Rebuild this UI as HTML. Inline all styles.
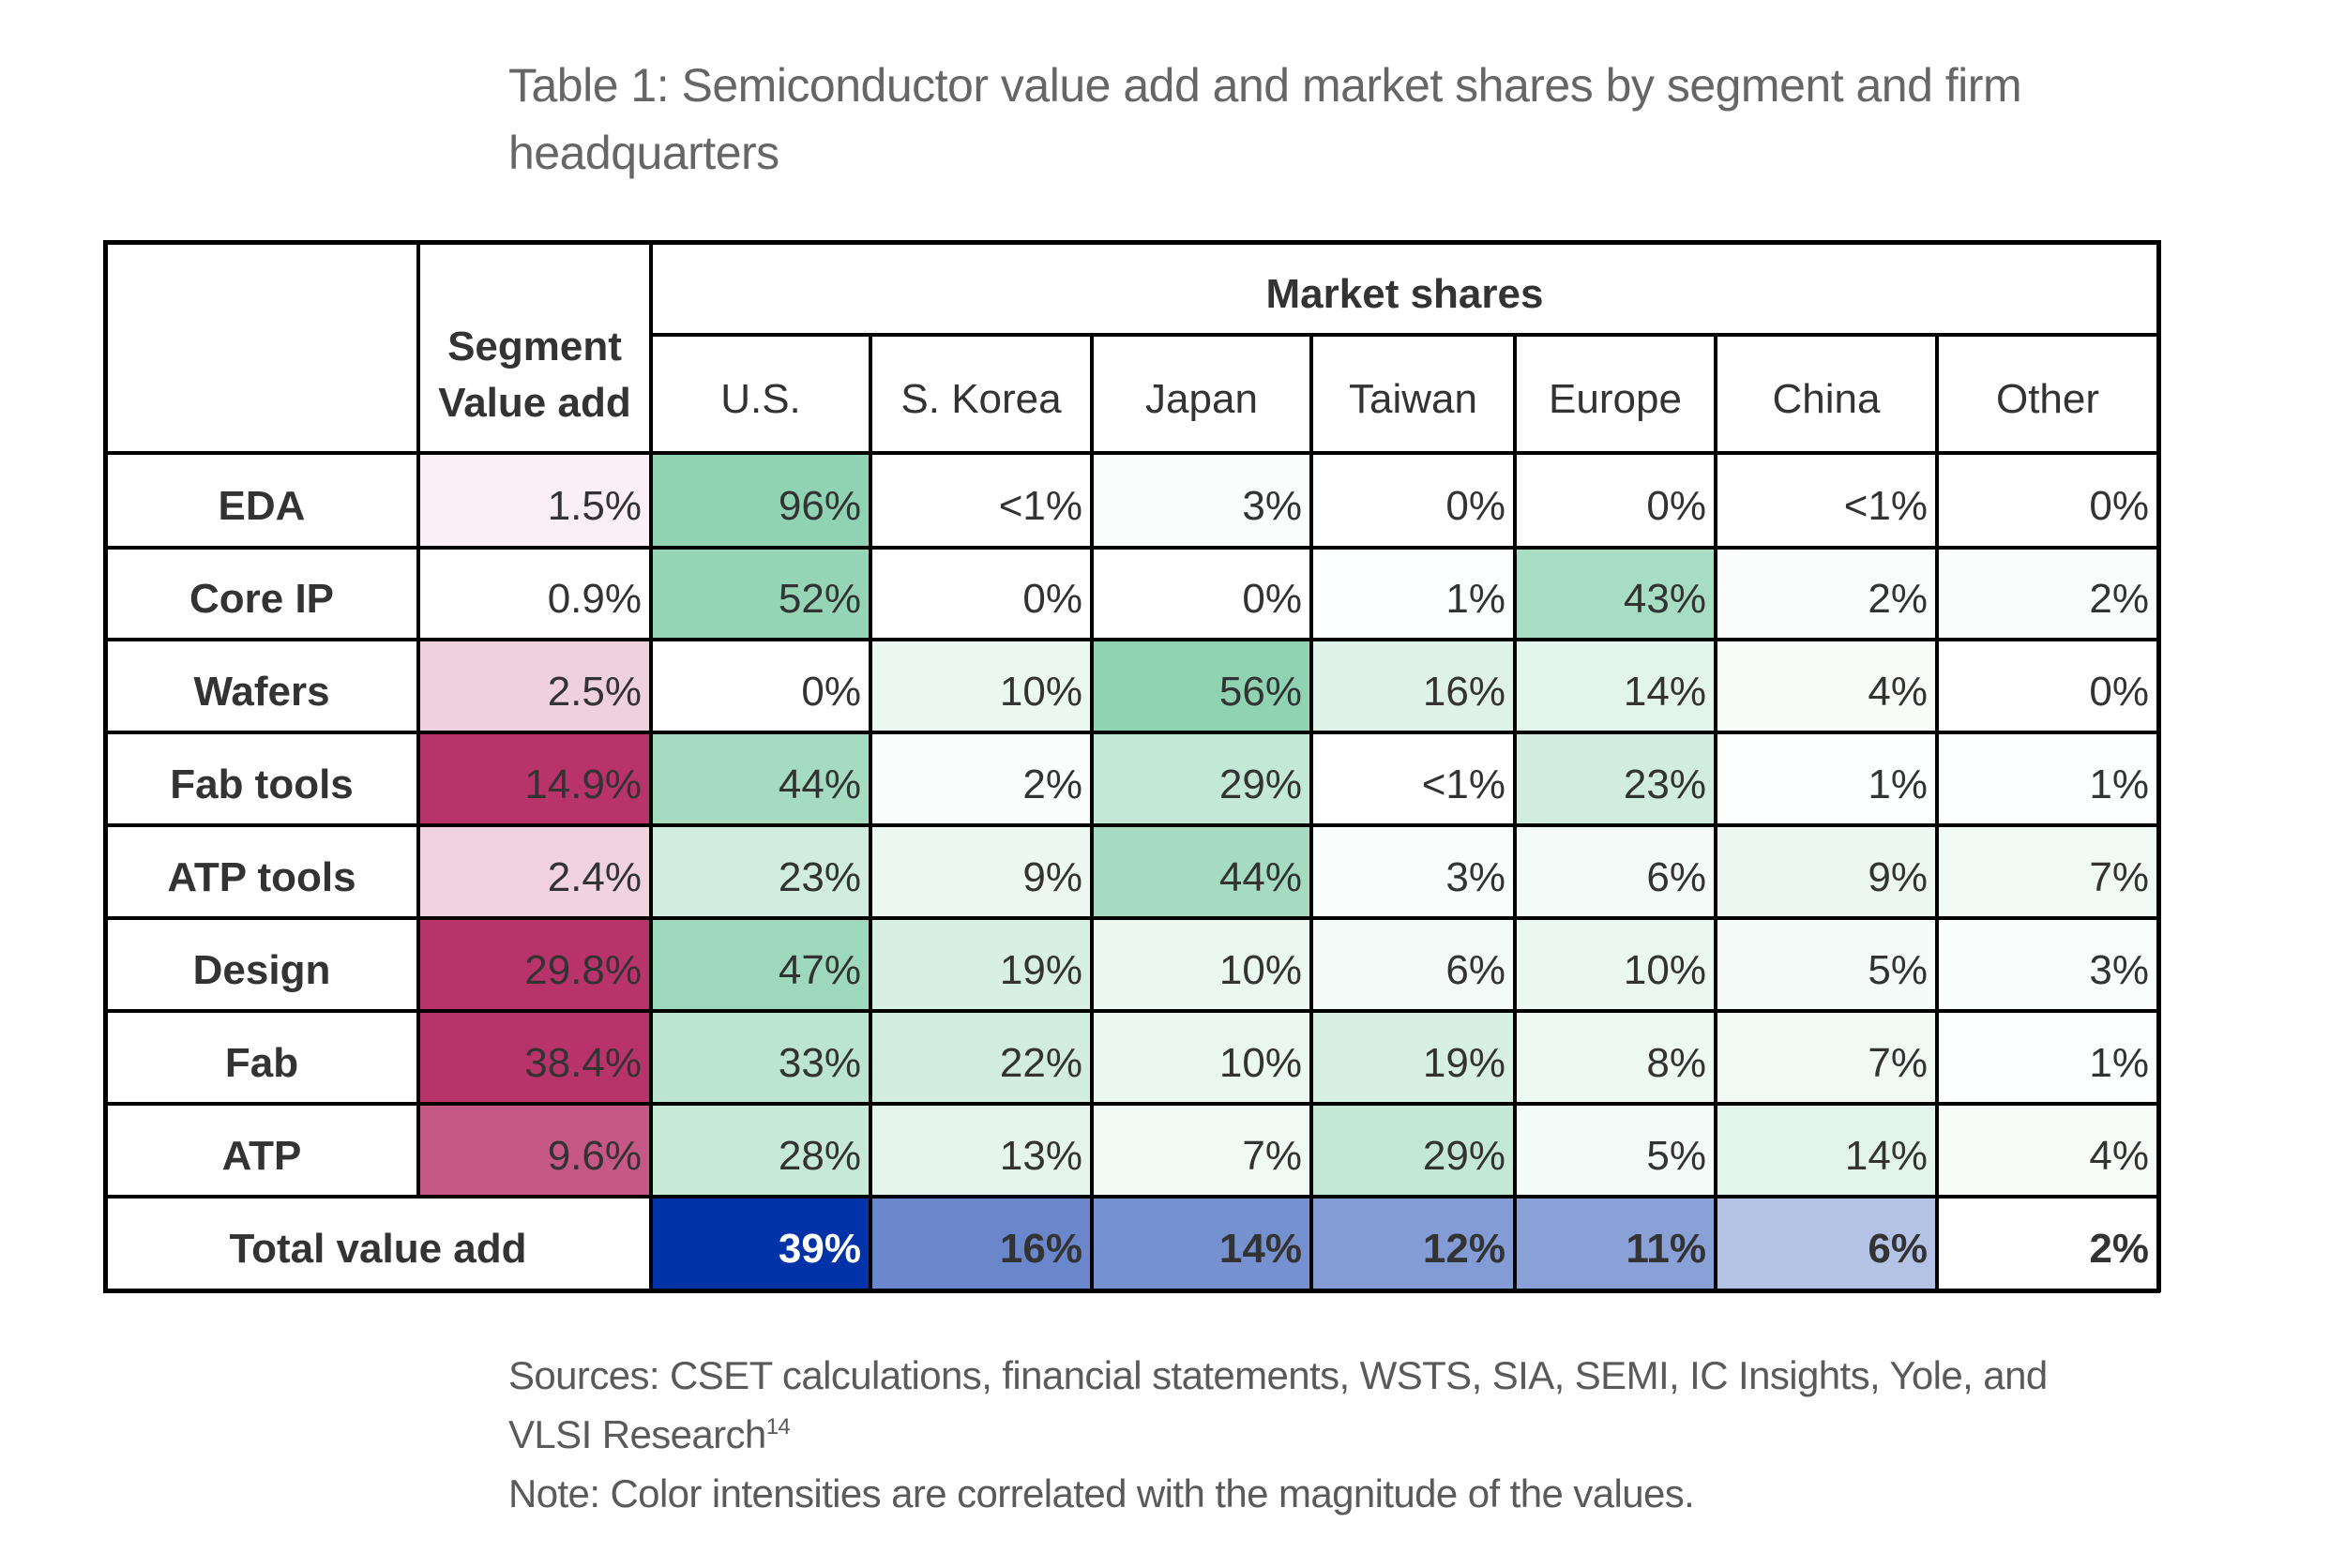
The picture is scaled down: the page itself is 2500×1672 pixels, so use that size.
<!DOCTYPE html>
<html><head><meta charset="utf-8">
<style>
html,body{margin:0;padding:0;background:#fff;}
#page{position:relative;width:2500px;height:1672px;overflow:hidden;font-family:"Liberation Sans",sans-serif;}
.t{position:absolute;color:#666;font-size:50px;left:542px;white-space:nowrap;letter-spacing:-0.5px;}
.s{position:absolute;color:#5a5a5a;font-size:42px;left:542px;white-space:nowrap;letter-spacing:-0.6px;}
.cell{position:absolute;box-sizing:border-box;display:flex;align-items:center;font-size:44px;color:#333;white-space:nowrap;}
.num{justify-content:flex-end;padding-right:10px;padding-top:12px;}
.ctr{justify-content:center;font-weight:bold;padding-top:12px;}
.ln{position:absolute;background:#000;}
</style></head>
<body>
<div id="page">
<div class="t" style="top:62px">Table 1: Semiconductor value add and market shares by segment and firm</div>
<div class="t" style="top:134px">headquarters</div>
<div id="tbl"></div>
<div class="s" style="top:1443px">Sources: CSET calculations, financial statements, WSTS, SIA, SEMI, IC Insights, Yole, and</div>
<div class="s" style="top:1506px">VLSI Research<sup style="font-size:24px">14</sup></div>
<div class="s" style="top:1569px">Note: Color intensities are correlated with the magnitude of the values.</div>
</div>
<script>
const segments=["EDA","Core IP","Wafers","Fab tools","ATP tools","Design","Fab","ATP"];
const regions=["U.S.","S. Korea","Japan","Taiwan","Europe","China","Other"];
const valueAdd=[1.5,0.9,2.5,14.9,2.4,29.8,38.4,9.6];
const valueAddLabels=["1.5%","0.9%","2.5%","14.9%","2.4%","29.8%","38.4%","9.6%"];
const shareLabels=[
["96%","<1%","3%","0%","0%","<1%","0%"],
["52%","0%","0%","1%","43%","2%","2%"],
["0%","10%","56%","16%","14%","4%","0%"],
["44%","2%","29%","<1%","23%","1%","1%"],
["23%","9%","44%","3%","6%","9%","7%"],
["47%","19%","10%","6%","10%","5%","3%"],
["33%","22%","10%","19%","8%","7%","1%"],
["28%","13%","7%","29%","5%","14%","4%"]];
const totals=[39,16,14,12,11,6,2];

const colX=[112,446,694,928,1164,1398,1615,1829,2065,2301];
const rowY=[483,584,682,781,880,979,1078,1177,1276,1376];
const tblTop=258, msLine=357;
const tbl=document.getElementById('tbl');
function parseV(s){return s.startsWith('<')?0.5:parseFloat(s);}
function mix(c,t){t=Math.max(0,Math.min(1,t));return 'rgb('+c.map(v=>Math.round(255+(v-255)*t)).join(',')+')';}
function pinkT(v){return v>=14?1:Math.min(0.82,(v-1)/6.5);}
function cell(x,y,w,h,txt,cls,bg,color){
  const d=document.createElement('div');
  d.className='cell '+cls;
  d.style.left=x+'px';d.style.top=y+'px';d.style.width=w+'px';d.style.height=h+'px';
  if(bg)d.style.background=bg;
  if(color)d.style.color=color;
  d.textContent=txt;
  tbl.appendChild(d);return d;
}
function line(x,y,w,h){
  const l=document.createElement('div');l.className='ln';
  l.style.left=x+'px';l.style.top=y+'px';l.style.width=w+'px';l.style.height=h+'px';
  
  
  tbl.appendChild(l);
}
let h=cell(colX[1],tblTop,colX[2]-colX[1],rowY[0]-tblTop,'','ctr');
h.innerHTML='<div style="text-align:center;line-height:60px;padding-top:46px">Segment<br>Value add</div>';


h=cell(colX[2],tblTop,colX[9]-colX[2],msLine-tblTop,'Market shares','ctr');


regions.forEach((r,i)=>{
  const c=cell(colX[i+2],msLine,colX[i+3]-colX[i+2],rowY[0]-msLine,r,'ctr');
  c.style.fontWeight='normal';c.style.color='#333';
  
  
});
segments.forEach((s,r)=>{
  const y=rowY[r],hh=rowY[r+1]-y;
  const l=cell(colX[0],y,colX[1]-colX[0],hh,s,'ctr');
  
  
  const v=cell(colX[1],y,colX[2]-colX[1],hh,valueAddLabels[r],'num',mix([184,51,106],pinkT(valueAdd[r])));
  
  
  shareLabels[r].forEach((lab,i)=>{
    const c=cell(colX[i+2],y,colX[i+3]-colX[i+2],hh,lab,'num',mix([143,211,178],parseV(lab)/55));
    
    
  });
});
const ty=rowY[8],th=rowY[9]-rowY[8];
const tl=cell(colX[0],ty,colX[2]-colX[0],th,'Total value add','ctr');


totals.forEach((v,i)=>{
  const c=cell(colX[i+2],ty,colX[i+3]-colX[i+2],th,v+'%','num',mix([0,51,168],Math.pow(Math.max(0,v-2)/37,0.55)),v>30?'#fff':'#333');
  c.style.fontWeight='bold';
  
  
});
const W=colX[9]-colX[0],H=rowY[9]-tblTop;
line(colX[0]-2,tblTop-2,W+4,5);line(colX[0]-2,rowY[9]-2,W+4,5);
line(colX[0]-2,tblTop-2,5,H+4);line(colX[9]-2,tblTop-2,5,H+4);
line(colX[2],msLine-2,colX[9]-colX[2],4);
for(let r=0;r<9;r++) line(colX[0],rowY[r]-2,W,4);
line(colX[1]-2,tblTop,4,rowY[8]-tblTop);
line(colX[2]-2,tblTop,4,H);
for(let i=3;i<9;i++) line(colX[i]-2,msLine,4,rowY[9]-msLine);
</script>
</body></html>
